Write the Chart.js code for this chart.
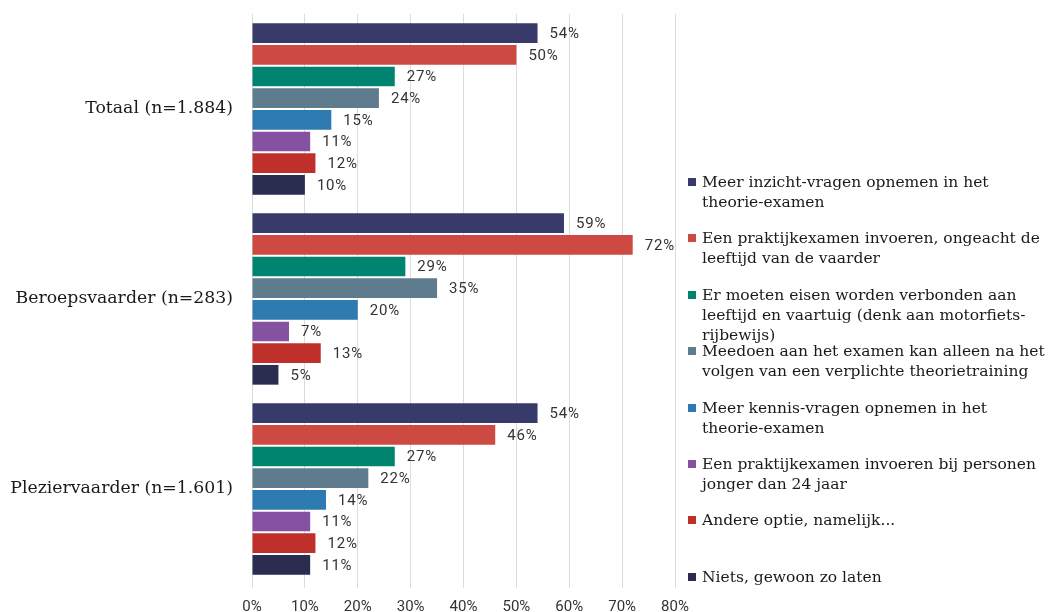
<!DOCTYPE html>
<html>
<head>
<meta charset="utf-8">
<script src="https://cdn.jsdelivr.net/npm/chart.js@4"></script>
<style>
  html, body { margin: 0; padding: 0; background: #fff; }
  #wrap { position: relative; width: 1050px; height: 612px; }
  #chartId { position: absolute; left: 0; top: 0; }
  #legend { position: absolute; left: 686px; top: 172px; width: 364px; font-family: "DejaVu Serif", serif; font-size: 15.5px; line-height: 20px; color: #1a1a1a; }
  .item { position: relative; height: 56.4px; padding-left: 16px; white-space: nowrap; }
  .sq { position: absolute; left: 2px; top: 6px; width: 8px; height: 8px; }
</style>
</head>
<body>
<div id="wrap">
  <canvas id="chartId" width="1050" height="612"></canvas>
  <div id="legend"></div>
</div>
<script>
// categories on the y axis
const groups = ["Totaal (n=1.884)", "Beroepsvaarder (n=283)", "Pleziervaarder (n=1.601)"];

// legend text, line by line as in the picture
const seriesLines = [
  ["Meer inzicht-vragen opnemen in het", "theorie-examen"],
  ["Een praktijkexamen invoeren, ongeacht de", "leeftijd van de vaarder"],
  ["Er moeten eisen worden verbonden aan", "leeftijd en vaartuig (denk aan motorfiets-", "rijbewijs)"],
  ["Meedoen aan het examen kan alleen na het", "volgen van een verplichte theorietraining"],
  ["Meer kennis-vragen opnemen in het", "theorie-examen"],
  ["Een praktijkexamen invoeren bij personen", "jonger dan 24 jaar"],
  ["Andere optie, namelijk..."],
  ["Niets, gewoon zo laten"]
];

// values per series: [Totaal, Beroeps, Plezier]
const inzicht = [54, 59, 54];
const praktijkAlle = [50, 72, 46];
const eisen = [27, 29, 27];
const training = [24, 35, 22];
const kennis = [15, 20, 14];
const praktijkJong = [11, 7, 11];
const andere = [12, 13, 12];
const niets = [10, 5, 11];

const tickValues = [0, 10, 20, 30, 40, 50, 60, 70, 80];

const seriesValues = [inzicht, praktijkAlle, eisen, training, kennis, praktijkJong, andere, niets];
const colors = ['#383b69', '#cc4a42', '#00836f', '#5f7b8e', '#2d7bb1', '#8552a1', '#c0302b', '#2a2c50'];

var datasets = seriesValues.map((vals, i) => ({
  label: seriesLines[i].join(' '),
  data: vals,
  backgroundColor: colors[i],
  barPercentage: 0.91,
  categoryPercentage: 0.912
}));

// little plugin for the % labels next to the bars
const valueLabels = {
  id: 'valueLabels',
  afterDatasetsDraw(chart) {
    const ctx = chart.ctx;
    ctx.save();
    ctx.font = '15px Roboto, sans-serif';
    ctx.letterSpacing = '0.8px';
    ctx.fillStyle = '#333';
    ctx.textBaseline = 'middle';
    ctx.textAlign = 'left';
    chart.data.datasets.forEach((ds, i) => {
      chart.getDatasetMeta(i).data.forEach((bar, j) => {
        ctx.fillText(ds.data[j] + '%', bar.x + 12, bar.y + 1);
      });
    });
    ctx.restore();
  }
};

var chrt = document.getElementById("chartId").getContext("2d");
new Chart(chrt, {
  type: 'bar',
  data: { labels: groups, datasets: datasets },
  options: {
    indexAxis: 'y',
    responsive: false,
    animation: false,
    layout: { padding: { top: 14, right: 375, left: 0, bottom: 0 } },
    plugins: { legend: { display: false }, tooltip: { enabled: false } },
    scales: {
      x: {
        min: 0,
        max: 80,
        afterBuildTicks: (scale) => { scale.ticks = tickValues.map(v => ({ value: v })); },
        afterFit: (scale) => { scale.height = 28; scale.paddingLeft = 0; scale.paddingRight = 0; },
        grid: { color: '#dcdcdc', tickLength: 4, drawTicks: true },
        border: { display: false },
        ticks: {
          padding: 10,
          color: '#333',
          font: { family: 'Roboto, sans-serif', size: 15 },
          callback: (v) => v + '%'
        }
      },
      y: {
        afterFit: (scale) => { scale.width = 252; scale.paddingTop = 0; scale.paddingBottom = 0; },
        grid: { display: false, drawTicks: false },
        border: { display: false },
        ticks: {
          padding: 19,
          color: '#1a1a1a',
          font: { family: '"DejaVu Serif", serif', size: 17.3 }
        }
      }
    }
  },
  plugins: [valueLabels]
});

// html legend
var temp = "";
seriesLines.forEach((lines, i) => {
  temp += '<div class="item"><span class="sq" style="background:' + colors[i] + '"></span>' + lines.join('<br>') + '</div>';
});
document.getElementById('legend').innerHTML = temp;
</script>
</body>
</html>
